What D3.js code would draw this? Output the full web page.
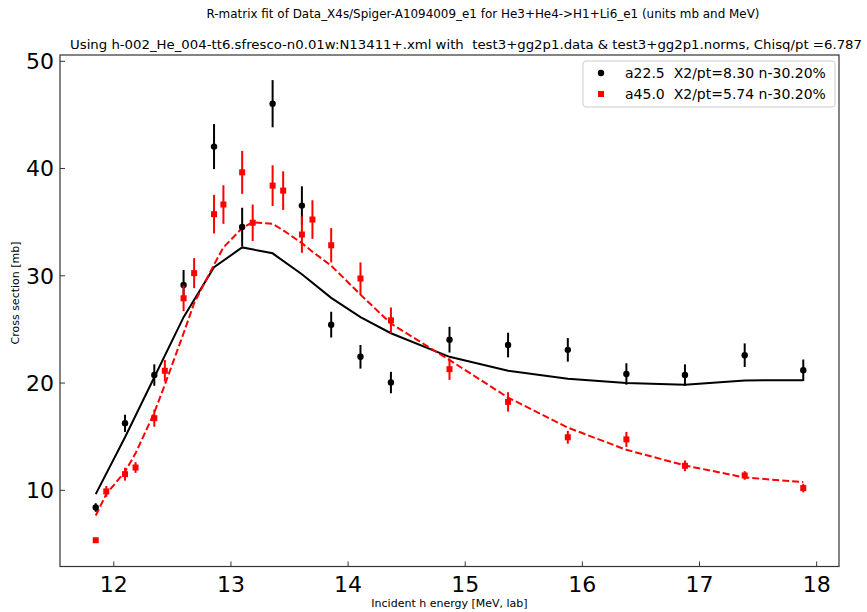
<!DOCTYPE html>
<html lang="en">
<head>
<meta charset="utf-8"/>
<title>R-matrix fit</title>
<script src="https://cdnjs.cloudflare.com/ajax/libs/d3/7.8.5/d3.min.js"></script>
<style>
  body { margin: 0; background: #fff; }
  text { font-family: "DejaVu Sans", sans-serif; }
</style>
</head>
<body>
<div id="chart"></div>
<script>
// energies (MeV, lab)
var xBlack = [11.85, 12.10, 12.35, 12.60, 12.86, 13.10, 13.36, 13.61, 13.86, 14.11, 14.37, 14.87, 15.37, 15.88, 16.38, 16.88, 17.39, 17.89];
var yBlack = [8.35, 16.2, 20.7, 29.1, 42.0, 34.5, 46.0, 36.5, 25.4, 22.4, 20.0, 24.0, 23.5, 23.05, 20.8, 20.7, 22.55, 21.15];
var eBlack = [0.4, 0.8, 1.0, 1.4, 2.1, 1.8, 2.2, 1.8, 1.2, 1.1, 1.0, 1.2, 1.15, 1.1, 1.0, 1.0, 1.1, 1.0];
var fitBlack = [9.6, 14.9, 20.5, 26.1, 30.75, 32.6, 32.05, 30.1, 27.9, 26.1, 24.6, 22.4, 21.1, 20.35, 19.97, 19.8, 20.2, 20.22];

var xRed = [11.85, 11.94, 12.10, 12.19, 12.35, 12.44, 12.60, 12.69, 12.86, 12.94, 13.10, 13.19, 13.36, 13.45, 13.61, 13.70, 13.86, 14.11, 14.37, 14.87, 15.37, 15.88, 16.38, 16.88, 17.39, 17.89];
var yRed = [5.3, 9.85, 11.46, 12.08, 16.68, 21.1, 27.86, 30.2, 35.7, 36.6, 39.6, 34.9, 38.36, 37.9, 33.8, 35.2, 32.8, 29.7, 25.8, 21.25, 18.2, 14.9, 14.7, 12.24, 11.34, 10.16];
var eRed = [0.15, 0.5, 0.6, 0.5, 0.8, 1.0, 1.2, 1.4, 1.8, 1.8, 2.0, 1.7, 1.9, 1.8, 1.7, 1.8, 1.6, 1.5, 1.2, 1.0, 0.9, 0.6, 0.7, 0.5, 0.4, 0.4];
var fitRed = [7.6, 9.6, 11.7, 13.4, 17.2, 19.8, 24.6, 27.4, 31.0, 32.6, 34.4, 34.95, 34.8, 34.2, 33.0, 32.2, 30.9, 28.2, 25.5, 22.1, 18.6, 15.8, 13.73, 12.27, 11.15, 10.72];

var xTicks = [12, 13, 14, 15, 16, 17, 18];
var yTicks = [10, 20, 30, 40, 50];
var legendLabels = ["a22.5  X2/pt=8.30 n-30.20%", "a45.0  X2/pt=5.74 n-30.20%"];
var title1 = "R-matrix fit of Data_X4s/Spiger-A1094009_e1 for He3+He4->H1+Li6_e1 (units mb and MeV)";
var title2 = "Using h-002_He_004-tt6.sfresco-n0.01w:N13411+.xml with  test3+gg2p1.data & test3+gg2p1.norms, Chisq/pt =6.787";

var W = 867, H = 612;
var pLeft = 60, pRight = 839, pTop = 55, pBottom = 566.5;

var svg = d3.select("#chart").append("svg")
  .attr("width", W).attr("height", H);

var x = d3.scaleLinear().domain([11.545, 18.195]).range([pLeft, pRight]);
var y = d3.scaleLinear().domain([2.85, 50.54]).range([pBottom, pTop]);

// titles
svg.append("text").attr("x", 483).attr("y", 18).attr("text-anchor", "middle")
  .attr("font-size", 13).attr("textLength", 553).attr("lengthAdjust", "spacingAndGlyphs")
  .text(title1);
svg.append("text").attr("x", 466).attr("y", 49).attr("text-anchor", "middle")
  .attr("font-size", 13).attr("textLength", 792).attr("lengthAdjust", "spacingAndGlyphs")
  .style("white-space", "pre")
  .text(title2);

// axes (ticks point inward)
var gx = svg.append("g").attr("transform", "translate(0," + pBottom + ")")
  .call(d3.axisBottom(x).tickValues(xTicks).tickSize(-5).tickPadding(10).tickFormat(d3.format("d")));
var gy = svg.append("g").attr("transform", "translate(" + pLeft + ",0)")
  .call(d3.axisLeft(y).tickValues(yTicks).tickSize(-5).tickPadding(6).tickFormat(d3.format("d")));
[gx, gy].forEach(function(g) {
  g.select(".domain").remove();
  g.selectAll(".tick line").attr("stroke", "#333").attr("stroke-width", 1);
  g.selectAll(".tick text").attr("font-size", 22).attr("font-family", "DejaVu Sans").attr("fill", "#000");
});
gx.selectAll(".tick text").attr("dy", "0.71em");
gy.selectAll(".tick text").attr("dy", "0.36em");

// frame
svg.append("rect").attr("x", pLeft).attr("y", pTop)
  .attr("width", pRight - pLeft).attr("height", pBottom - pTop)
  .attr("fill", "none").attr("stroke", "#333").attr("stroke-width", 1.2);

// labels
svg.append("text").attr("x", (pLeft + pRight) / 2).attr("y", 607).attr("text-anchor", "middle")
  .attr("font-size", 11).text("Incident h energy [MeV, lab]");
svg.append("text").attr("transform", "translate(19,293) rotate(-90)").attr("text-anchor", "middle")
  .attr("font-size", 11).text("Cross section [mb]");

var plot = svg.append("g");

// fit lines
var line = d3.line().x(function(d) { return x(d[0]); }).y(function(d) { return y(d[1]); });
plot.append("path").datum(d3.zip(xBlack, fitBlack)).attr("d", line)
  .attr("fill", "none").attr("stroke", "#000").attr("stroke-width", 2);
plot.append("path").datum(d3.zip(xRed, fitRed)).attr("d", line)
  .attr("fill", "none").attr("stroke", "#ff0000").attr("stroke-width", 2)
  .attr("stroke-dasharray", "7,3");

// error bars + markers
var black = d3.zip(xBlack, yBlack, eBlack);
var red = d3.zip(xRed, yRed, eRed);

plot.selectAll(".ebk").data(black).enter().append("line")
  .attr("x1", function(d) { return x(d[0]); }).attr("x2", function(d) { return x(d[0]); })
  .attr("y1", function(d) { return y(d[1] - d[2]); }).attr("y2", function(d) { return y(d[1] + d[2]); })
  .attr("stroke", "#000").attr("stroke-width", 2);
plot.selectAll(".mbk").data(black).enter().append("circle")
  .attr("cx", function(d) { return x(d[0]); }).attr("cy", function(d) { return y(d[1]); })
  .attr("r", 3.2).attr("fill", "#000");

plot.selectAll(".erd").data(red).enter().append("line")
  .attr("x1", function(d) { return x(d[0]); }).attr("x2", function(d) { return x(d[0]); })
  .attr("y1", function(d) { return y(d[1] - d[2]); }).attr("y2", function(d) { return y(d[1] + d[2]); })
  .attr("stroke", "#ff0000").attr("stroke-width", 2);
plot.selectAll(".mrd").data(red).enter().append("rect")
  .attr("x", function(d) { return x(d[0]) - 3; }).attr("y", function(d) { return y(d[1]) - 3; })
  .attr("width", 6).attr("height", 6).attr("fill", "#ff0000");

// legend
var lg = svg.append("g");
lg.append("rect").attr("x", 583).attr("y", 61).attr("width", 252).attr("height", 46).attr("rx", 3)
  .attr("fill", "#fff").attr("stroke", "#ccc").attr("stroke-width", 1);
lg.append("circle").attr("cx", 601).attr("cy", 73).attr("r", 3.2).attr("fill", "#000");
lg.append("rect").attr("x", 598).attr("y", 91).attr("width", 6).attr("height", 6).attr("fill", "#ff0000");
lg.selectAll(".lt").data(legendLabels).enter().append("text")
  .attr("x", 625).attr("y", function(d, i) { return 78 + i * 21; })
  .attr("font-size", 14).style("white-space", "pre")
  .text(function(d) { return d; });
</script>
</body>
</html>
